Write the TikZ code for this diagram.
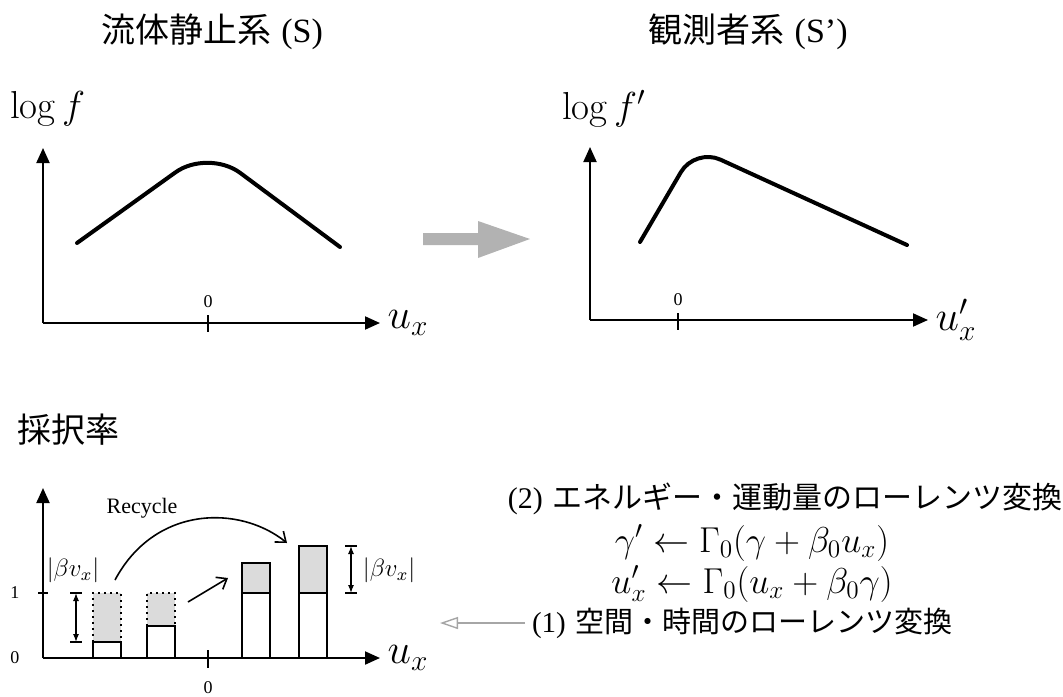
\RequirePackage{fix-cm}
\documentclass[tikz,border=0pt]{standalone}
\usepackage{fontspec}
\usepackage{amsmath}
\usetikzlibrary{arrows.meta}
\newfontfamily\cjk{Noto Sans CJK JP}
\newfontfamily\tms{Liberation Serif}
\newcommand{\fsz}[1]{\fontsize{#1}{#1}\selectfont}
\tikzset{
  axis/.style={line width=1pt,-{Triangle[length=7.5pt,width=6.5pt]}},
  curve/.style={line width=2pt,line cap=round,line join=round},
  barbox/.style={line width=1pt},
  thinarr/.style={line width=0.8pt,-{Straight Barb[length=4.5pt,width=7pt]}},
  dblarr/.style={line width=0.6pt,{Latex[length=4pt,width=3pt]}-{Latex[length=4pt,width=3pt]}},
  ttl/.style={font=\fsz{17}},
  lbl/.style={font=\fsz{15}},
  bigmath/.style={font=\fsz{18}},
  axlab/.style={font=\fsz{21}},
  num/.style={font=\tms\fsz{9}},
}
\begin{document}
\begin{tikzpicture}[x=0.5pt,y=-0.5pt]
\useasboundingbox (0,0) rectangle (1063,696);
% titles
\node[ttl] (ttlS) at (212,32) {{\cjk 流体静止系} {\tms (S)}};
\node[ttl] (ttlSp) at (748,32) {{\cjk 観測者系} {\tms (S’)}};
% rest frame
\node[font=\fsz{19.5},anchor=west] (lgf) at (3,109) {$\log f$};
\coordinate (oA) at (43,323);
\draw[axis] (oA) -- (43,148);
\draw[axis] (oA) -- (380,323) node[axlab,right] (uxA) {$u_x$};
\draw[line width=1pt] (208,315) -- (208,332);
\node[num] (zA) at (208,302) {0};
\draw[curve,rounded corners=20pt] (77,243) -- (208,149) -- (340,247);
% shift arrow
\fill[black!30] (423,233) -- (478,233) -- (478,221) -- (530,239) -- (478,258) -- (478,245) -- (423,245) -- cycle;
% observer frame
\node[font=\fsz{19.5},anchor=west] (lgfp) at (555,109) {$\log f'$};
\coordinate (oB) at (590,320);
\draw[axis] (oB) -- (590,147);
\draw[axis] (oB) -- (928,320) node[axlab,right] (uxB) {$u'_x$};
\draw[line width=1pt] (678,313) -- (678,330);
\node[num] (zB) at (678,300) {0};
\draw[curve,rounded corners=14pt] (640,242) -- (695,148) -- (907,245);
% acceptance rate
\node[ttl,anchor=west] (acc) at (10,430) {\cjk 採択率};
\coordinate (oC) at (43,658);
\draw[axis] (oC) -- (43,488);
\draw[axis] (oC) -- (380,658) node[axlab,right] (uxC) {$u_x$};
\draw[line width=1pt] (208,650) -- (208,668);
\draw[line width=1pt] (38,593) -- (48,593);
\node[num] (zC) at (208,688) {0};
\node[num] (zeroC) at (15,658) {0};
\node[num] (oneC) at (15,593) {1};
% bars
\foreach \x/\h in {93/642,147/626}{
  \fill[black!14] (\x,593) rectangle (\x+28,\h);
  \draw[dotted,line width=1pt] (\x,\h) -- (\x,593) -- (\x+28,593) -- (\x+28,\h);
  \draw[barbox] (\x,658) rectangle (\x+28,\h);
}
\foreach \x/\t in {242/563,299/546}{
  \draw[barbox,fill=black!14] (\x,\t) rectangle (\x+28,593);
  \draw[barbox] (\x,593) rectangle (\x+28,658);
}
% shifts
\draw[dblarr] (76,593) -- (76,642);
\draw[line width=0.6pt] (70,593) -- (82,593) (70,642) -- (82,642);
\draw[dblarr] (351,546) -- (351,593);
\draw[line width=0.6pt] (345,546) -- (357,546) (345,593) -- (357,593);
\node[font=\fsz{12.5}] (bvL) at (73,570) {$|\beta v_x|$};
\node[font=\fsz{12.5}] (bvR) at (389,570) {$|\beta v_x|$};
\coordinate (rcS) at (115,580);
\coordinate (rcE) at (287,543);
\draw[thinarr] (rcS) .. controls (155,505) and (240,505) .. (rcE);
\node[font=\tms\fsz{11}] (rcy) at (142,508) {Recycle};
\coordinate (mvS) at (188,602);
\coordinate (mvE) at (228,578);
\draw[thinarr] (mvS) -- (mvE);
% transforms
\node[lbl,inner sep=1pt] (hdB) at (785,499) {{\tms (2)} {\cjk エネルギー・運動量のローレンツ変換}};
\node[bigmath,inner sep=1pt] (eqG) at (752,543) {$\gamma' \leftarrow \Gamma_0(\gamma + \beta_0 u_x)$};
\node[bigmath,inner sep=1pt] (eqU) at (752,584) {$u'_x \leftarrow \Gamma_0(u_x + \beta_0 \gamma)$};
\node[font=\fsz{14.5},anchor=west] (hdA) at (525,623) {{\tms (1)} {\cjk 空間・時間のローレンツ変換}};
\coordinate (hdAE) at (440,623);
\draw[black!35,line width=0.7pt,-{Triangle[open,length=9pt,width=6pt]}] (hdA.west) -- (hdAE);
\end{tikzpicture}
\end{document}
